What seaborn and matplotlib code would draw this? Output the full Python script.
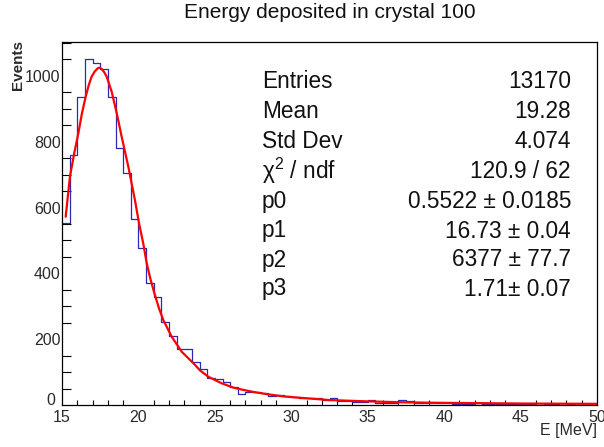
import numpy as np
import pandas as pd
import matplotlib
matplotlib.use("Agg")
import matplotlib.pyplot as plt
import seaborn as sns
from matplotlib.ticker import MultipleLocator, FuncFormatter

# ---- data ----
bin_edges = np.arange(15.0, 50.0 + 0.25, 0.5)
counts = [552, 760, 935, 1051, 1040, 1021, 935, 782, 704, 564,
          478, 372, 329, 251, 211, 170, 170, 130, 108, 81,
          79, 69, 54, 33, 40, 41, 35, 28, 30, 26,
          23, 21, 21, 21, 16, 22, 12, 12, 9, 9,
          14, 7, 7, 7, 15, 12, 7, 7, 6, 6,
          5, 4, 4, 3, 0, 3, 4, 3, 3, 2,
          3, 2, 0, 2, 2, 1, 2, 0, 1, 1]

fit_E = [15.24, 15.52, 15.8, 16.07, 16.3, 16.55, 16.75, 16.94, 17.15, 17.33, 17.45,
         17.6, 17.75, 17.92, 18.25, 18.58, 18.9, 19.34, 19.77, 20.04, 20.32,
         20.54, 20.8, 21.08, 21.35, 21.63, 22.17, 22.83, 23.7, 24.03, 24.57,
         25.44, 26.2, 26.75, 27.6, 28.4, 29.5, 30.57, 32.5, 35.0, 37.5,
         40.0, 42.5, 45.0, 47.5, 50.0]
fit_y = [572, 694, 765, 826, 885, 937, 972, 998, 1014, 1023, 1025,
         1021, 1012, 998, 952, 887, 816, 724, 623, 552, 490,
         431, 380, 334, 293, 258, 208, 162, 122, 105, 86,
         66, 53, 47, 39, 33, 26, 22, 15, 11, 8,
         6.5, 5.5, 4.5, 4.0, 3.5]

stat_names = ["Entries", "Mean", "Std Dev", "χ$^{2}$ / ndf", "p0", "p1", "p2", "p3"]
stat_values = ["13170", "19.28", "4.074", "120.9 / 62",
               "0.5522 ± 0.0185", "16.73 ± 0.04", "6377 ± 77.7", "1.71± 0.07"]

title = "Energy deposited in crystal 100"
xlabel = "E [MeV]"
ylabel = "Events"

# ---- plotting ----
sns.set_theme(style="white")
plt.rcParams['font.family'] = ['Liberation Sans', 'DejaVu Sans']
plt.rcParams['mathtext.fontset'] = 'custom'
plt.rcParams['mathtext.rm'] = 'Liberation Sans'
plt.rcParams['mathtext.it'] = 'Liberation Sans'
plt.rcParams['mathtext.default'] = 'regular'

fig = plt.figure(figsize=(6.04, 4.47), dpi=100)
ax = fig.add_axes([62 / 604, 1 - 405 / 447, 535 / 604, 363 / 447])

centers = (bin_edges[:-1] + bin_edges[1:]) / 2
hist_df = pd.DataFrame({"E": centers, "w": counts})
sns.histplot(data=hist_df, x="E", weights="w", binwidth=0.5, binrange=(15.0, 50.0),
             element="step", fill=False, color="#2a2ab4", linewidth=0.9, ax=ax)

fit_df = pd.DataFrame({"E": fit_E, "y": fit_y})
sns.lineplot(data=fit_df, x="E", y="y", color="#ff0000", linewidth=1.6, ax=ax)

ax.set_xlim(15, 50)
ax.set_ylim(0, 1103)

ax.xaxis.set_major_locator(MultipleLocator(5))
ax.xaxis.set_minor_locator(MultipleLocator(1))
ax.yaxis.set_major_locator(MultipleLocator(200))
ax.yaxis.set_minor_locator(MultipleLocator(50))
ax.yaxis.set_major_formatter(FuncFormatter(lambda v, p: "" if v == 0 else f"{v:.0f}"))
ax.tick_params(axis="both", which="both", direction="in", colors="black",
               labelcolor="#2a2a2a", labelsize=11.5)
ax.tick_params(axis="x", which="major", length=7.2, width=0.8, pad=3.5)
ax.tick_params(axis="x", which="minor", length=3.6, width=0.8, bottom=True)
ax.tick_params(axis="y", which="major", length=12, width=0.8, pad=1)
ax.tick_params(axis="y", which="minor", length=6.2, width=0.8, left=True)

for s in ax.spines.values():
    s.set_color("black")
    s.set_linewidth(0.9)
    s.set_visible(True)

ax.set_xlabel("")
ax.set_ylabel("")
fig.text(55 / 604, 1 - 405 / 447, "0", ha="right", va="baseline", fontsize=11.5, color="#2a2a2a")
fig.text(597 / 604, 1 - 431 / 447, xlabel, ha="right", va="center", fontsize=11.5, color="#2a2a2a")
fig.text(18 / 604, 1 - 40 / 447, ylabel, ha="center", va="top", rotation=90,
         fontsize=11, fontweight="bold", color="#2a2a2a")
fig.text(330 / 604, 1 - 12 / 447, title, ha="center", va="center", fontsize=15, color="#111111")

row_y = [82, 112, 142, 171, 202, 231, 260, 289]
for name, val, yy in zip(stat_names, stat_values, row_y):
    fig.text(262 / 604, 1 - yy / 447, name, ha="left", va="center", fontsize=16.3, color="#111111")
    fig.text(571 / 604, 1 - yy / 447, val, ha="right", va="center", fontsize=16.3, color="#111111")

fig.savefig("out.png", dpi=100)
